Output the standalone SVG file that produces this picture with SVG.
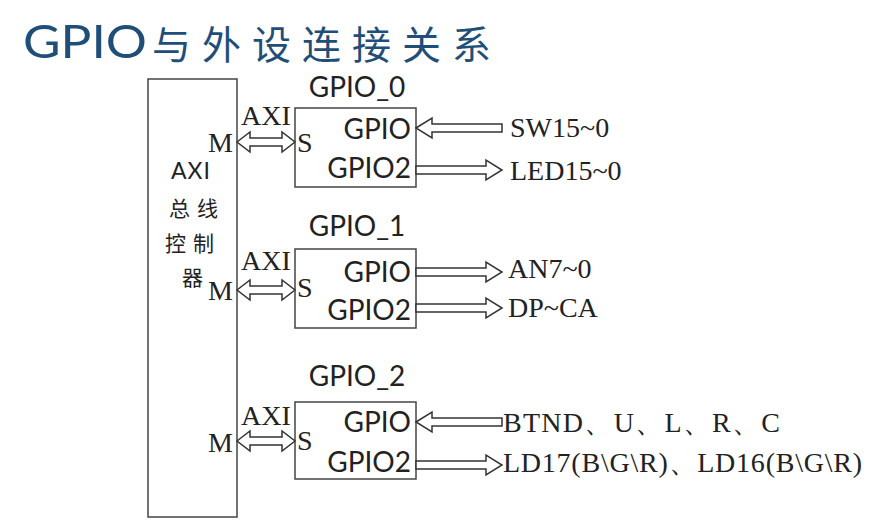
<svg xmlns="http://www.w3.org/2000/svg" width="879" height="522" viewBox="0 0 879 522">
<style>
.title{font-family:Lato,"Open Sans",sans-serif;font-size:46px;fill:#1f4e79}
.titlecn{font-family:"Noto Sans CJK SC",sans-serif;font-size:39px;fill:#1f4e79;letter-spacing:11px}
.sans{font-family:Lato,"Open Sans",sans-serif;font-size:28px;fill:#222}
.serif{font-family:"Liberation Serif","Times New Roman",serif;font-size:28px;fill:#222}
.cn{font-family:"Noto Sans CJK SC",sans-serif;font-size:21px;fill:#222;letter-spacing:7px}
.box{fill:#fff;stroke:#444;stroke-width:1.5}
.arr{fill:#fff;stroke:#333;stroke-width:1.5;stroke-linejoin:miter}
</style>
<rect width="879" height="522" fill="#fff"/>
<text class="title" x="23" y="58" textLength="124" lengthAdjust="spacingAndGlyphs">GPIO</text>
<text class="titlecn" x="152" y="59">与外设连接关系</text>

<g id="axi-ctrl">
<rect class="box" x="148" y="79" width="89" height="438"/>
<text class="sans" x="171" y="179" style="font-size:23px;letter-spacing:1px">AXI</text>
<text class="cn" x="169" y="216">总线</text>
<text class="cn" x="165" y="251">控制</text>
<text class="cn" x="182" y="285">器</text>
<text class="serif" x="208" y="152">M</text>
<text class="serif" x="208" y="300">M</text>
<text class="serif" x="208" y="452">M</text>
</g>

<g id="gpio0">
<text class="sans" x="357" y="97" text-anchor="middle">GPIO_0</text>
<rect class="box" x="295" y="108" width="121" height="79"/>
<text class="serif" x="297" y="152">S</text>
<text class="sans" x="411" y="139" text-anchor="end">GPIO</text>
<text class="sans" x="411" y="178" text-anchor="end">GPIO2</text>
</g>

<g id="gpio1">
<text class="sans" x="357" y="236" text-anchor="middle">GPIO_1</text>
<rect class="box" x="295" y="249" width="121" height="79"/>
<text class="serif" x="297" y="297">S</text>
<text class="sans" x="411" y="282" text-anchor="end">GPIO</text>
<text class="sans" x="411" y="320" text-anchor="end">GPIO2</text>
</g>

<g id="gpio2">
<text class="sans" x="357" y="386" text-anchor="middle">GPIO_2</text>
<rect class="box" x="295" y="402" width="121" height="77"/>
<text class="serif" x="297" y="450">S</text>
<text class="sans" x="411" y="432" text-anchor="end">GPIO</text>
<text class="sans" x="411" y="472" text-anchor="end">GPIO2</text>
</g>

<g id="connectors">
<polygon class="arr" points="237,142 250,132 250,138 282,138 282,132 295,142 282,152 282,146 250,146 250,152"/>
<polygon class="arr" points="237,290 250,280 250,286 282,286 282,280 295,290 282,300 282,294 250,294 250,300"/>
<polygon class="arr" points="237,441 250,431 250,437 282,437 282,431 295,441 282,451 282,445 250,445 250,451"/>
<text class="serif" x="241" y="125">AXI</text>
<text class="serif" x="241" y="270">AXI</text>
<text class="serif" x="241" y="425">AXI</text>

<polygon class="arr" points="416,128 432,118 432,124 502,124 502,132 432,132 432,138"/>
<polygon class="arr" points="416,166 486,166 486,160 502,170 486,180 486,174 416,174"/>
<polygon class="arr" points="416,268 486,268 486,262 502,272 486,282 486,276 416,276"/>
<polygon class="arr" points="416,304 486,304 486,298 502,308 486,318 486,312 416,312"/>
<polygon class="arr" points="416,422 432,412 432,418 502,418 502,426 432,426 432,432"/>
<polygon class="arr" points="416,461 486,461 486,455 502,465 486,475 486,469 416,469"/>

<text class="serif" x="510" y="137">SW15~0</text>
<text class="serif" x="510" y="180">LED15~0</text>
<text class="serif" x="508" y="278">AN7~0</text>
<text class="serif" x="508" y="317">DP~CA</text>
<text class="serif" x="503" y="432" textLength="277" lengthAdjust="spacing">BTND、U、L、R、C</text>
<text class="serif" x="503" y="472" textLength="359" lengthAdjust="spacing">LD17(B\G\R)、LD16(B\G\R)</text>
</g>
</svg>
